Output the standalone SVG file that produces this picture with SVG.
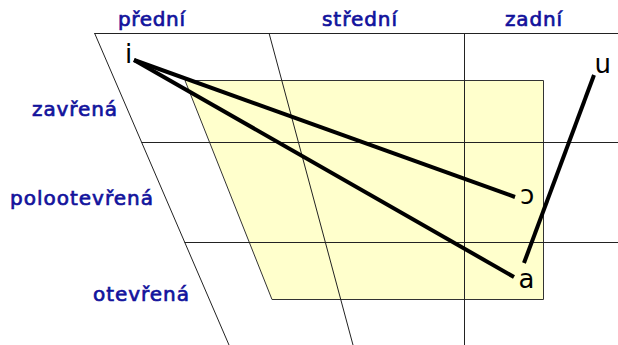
<svg xmlns="http://www.w3.org/2000/svg" width="618" height="345" viewBox="0 0 618 345">
<style>
.grid{stroke:#222;stroke-width:1;fill:none}
.lbl{font-family:"DejaVu Sans",sans-serif;font-size:20px;fill:#12129c;stroke:#12129c;stroke-width:0.7}
.v{font-family:"DejaVu Sans",sans-serif;font-size:26px;fill:#000}
.c{stroke:#000;stroke-width:4;fill:none}
</style>
<rect width="618" height="345" fill="#fff"/>
<g id="area">
<polygon points="185,80.5 543.5,80.5 543.5,299.5 272,299.5" fill="#ffffcc" stroke="#333" stroke-width="1"/>
</g>
<g id="grid" class="grid">
<line x1="94.5" y1="33.5" x2="618" y2="33.5"/>
<line x1="141.5" y1="142.5" x2="618" y2="142.5"/>
<line x1="184.6" y1="242.5" x2="618" y2="242.5"/>
<line x1="94.5" y1="33" x2="229" y2="345"/>
<line x1="269" y1="33" x2="353" y2="345"/>
<line x1="464.5" y1="33" x2="464.5" y2="345"/>
</g>
<g id="labels" class="lbl">
<text id="l-predni" x="118" y="26" textLength="67" lengthAdjust="spacing">přední</text>
<text id="l-stredni" x="322" y="26" textLength="75" lengthAdjust="spacing">střední</text>
<text id="l-zadni" x="505" y="26" textLength="57" lengthAdjust="spacing">zadní</text>
<text id="l-zavrena" x="32" y="116" textLength="85" lengthAdjust="spacing">zavřená</text>
<text id="l-poloot" x="10" y="205" textLength="143" lengthAdjust="spacing">polootevřená</text>
<text id="l-oteve" x="93" y="301" textLength="96" lengthAdjust="spacing">otevřená</text>
</g>
<g id="connectors">
<line class="c" x1="134" y1="60" x2="515" y2="197"/>
<line class="c" x1="134" y1="60" x2="514" y2="277"/>
<line class="c" x1="594" y1="75" x2="524" y2="263"/>
</g>
<g id="v-i"><text class="v" x="125" y="63">i</text></g>
<g id="v-u"><text class="v" x="594.5" y="72.5">u</text></g>
<g id="v-o"><text class="v" x="520" y="204">ɔ</text></g>
<g id="v-a"><text class="v" x="518.5" y="288">a</text></g>
</svg>
